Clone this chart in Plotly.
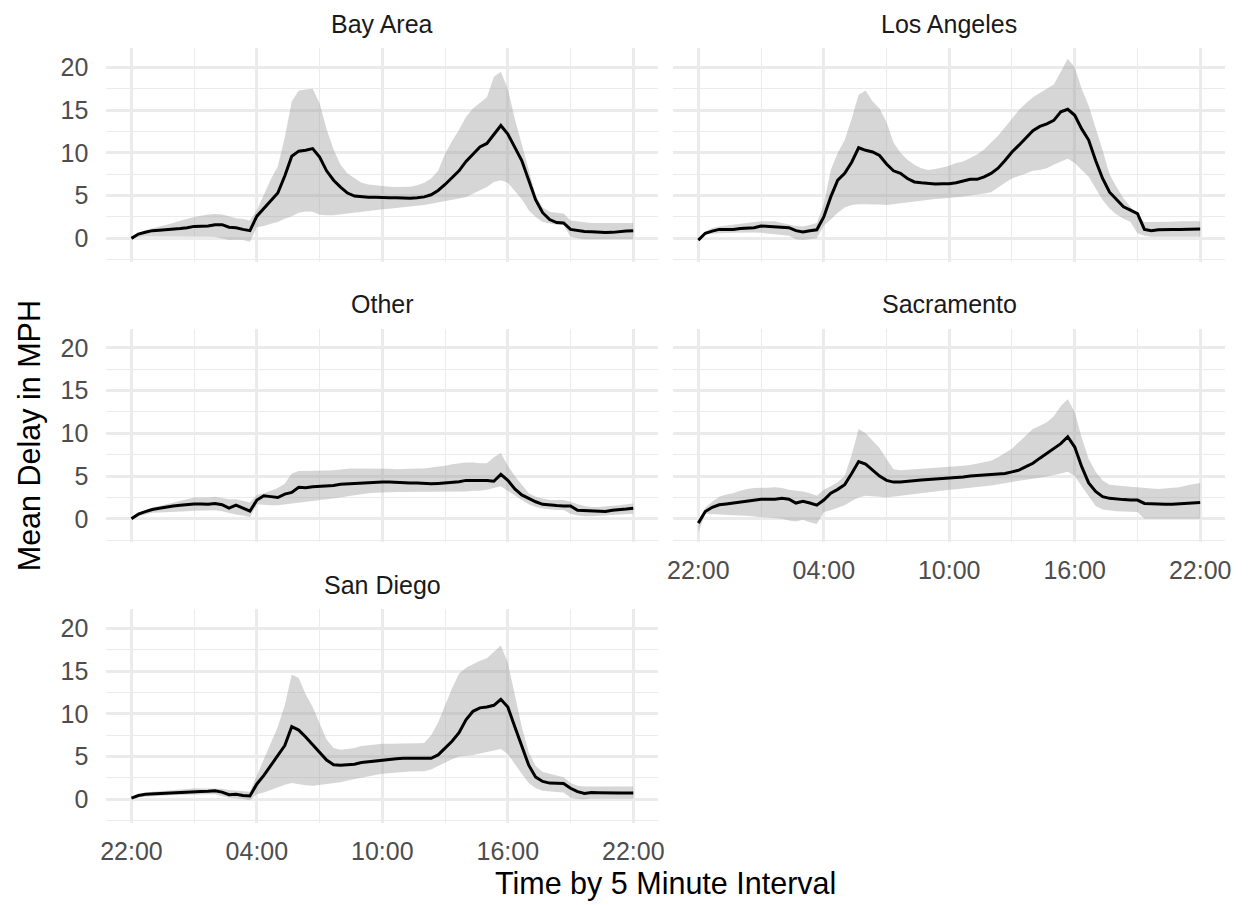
import plotly.graph_objects as go

# Sampling grid: every 20 minutes from 22:00 to the following 22:00,
# expressed as minutes after 22:00.
minutes = list(range(0, 24 * 60 + 1, 20))
hours = [m / 60 for m in minutes]

tick_hours = [0, 6, 12, 18, 24]
tick_labels = ["22:00", "04:00", "10:00", "16:00", "22:00"]
minor_hours = [3, 9, 15, 21]
y_ticks = [0, 5, 10, 15, 20]
y_minor = [-2.5, 2.5, 7.5, 12.5, 17.5]

regions = ["Bay Area", "Los Angeles", "Other", "Sacramento", "San Diego"]

# ---- Bay Area ----
bay_area_mean = [
    0.0, 0.5, 0.72, 0.9, 0.95, 1.0, 1.05, 1.15, 1.25, 1.4, 1.42, 1.45,
    1.6, 1.6, 1.3, 1.25, 1.05, 0.9, 2.6, 3.5, 4.4, 5.3, 7.3, 9.6,
    10.2, 10.3, 10.5, 9.5, 7.9, 6.8, 6.0, 5.3, 4.95, 4.85, 4.8, 4.8,
    4.75, 4.75, 4.75, 4.7, 4.7, 4.75, 4.85, 5.1, 5.6, 6.3, 7.1, 7.9,
    9.0, 9.8, 10.7, 11.1, 12.2, 13.2, 12.2, 10.7, 9.1, 6.8, 4.5, 3.0,
    2.2, 1.85, 1.8, 1.05, 0.9, 0.8, 0.78, 0.7, 0.68, 0.7, 0.8, 0.85,
    0.9]
bay_area_low = [
    0.0, 0.15, 0.22, 0.27, 0.25, 0.22, 0.2, 0.2, 0.2, 0.2, 0.2, 0.2,
    0.15, 0.0, -0.2, -0.15, -0.2, -0.4, 1.3, 1.45, 1.7, 1.9, 2.3, 2.6,
    3.0, 3.15, 3.1, 2.75, 2.7, 2.7, 2.8, 2.9, 3.0, 3.1, 3.2, 3.3,
    3.4, 3.45, 3.5, 3.6, 3.7, 3.8, 3.9, 4.0, 4.15, 4.3, 4.5, 4.65,
    4.85, 5.2, 5.6, 6.0, 6.6, 6.8, 6.5, 5.6, 4.6, 3.3, 2.5, 1.9,
    1.75, 1.6, 1.55, 0.2, 0.0, -0.1, -0.1, -0.1, -0.1, -0.1, -0.1, -0.1,
    -0.1]
bay_area_high = [
    0.0, 0.6, 0.95, 1.15, 1.35, 1.6, 1.8, 2.05, 2.3, 2.5, 2.65, 2.8,
    2.85, 2.8, 2.6, 2.35, 2.25, 2.1, 3.3, 5.2, 6.9, 8.4, 11.8, 16.0,
    17.3, 17.4, 17.5, 15.8, 12.8, 10.4, 8.6, 7.6, 7.0, 6.5, 6.3, 6.2,
    6.1, 6.05, 6.0, 6.0, 6.05, 6.2, 6.5, 7.0, 7.9, 9.9, 11.4, 12.7,
    14.2, 15.2, 15.8, 16.5, 18.9, 19.5, 17.5, 14.0, 11.0, 8.0, 5.0, 3.6,
    3.1, 3.0, 2.9, 2.1, 2.0, 1.9, 1.8, 1.8, 1.8, 1.8, 1.8, 1.8,
    1.8]

# ---- Los Angeles ----
los_angeles_mean = [
    -0.2, 0.6, 0.85, 1.05, 1.05, 1.05, 1.15, 1.2, 1.25, 1.45, 1.4, 1.3,
    1.25, 1.25, 0.9, 0.75, 0.9, 1.0, 2.5, 4.85, 6.8, 7.6, 8.9, 10.6,
    10.3, 10.1, 9.7, 8.7, 7.9, 7.6, 7.0, 6.6, 6.5, 6.4, 6.35, 6.4,
    6.4, 6.5, 6.7, 6.9, 6.9, 7.2, 7.6, 8.2, 9.1, 10.1, 10.9, 11.7,
    12.6, 13.1, 13.4, 13.8, 14.8, 15.1, 14.4, 12.8, 11.5, 9.1, 7.0, 5.4,
    4.5, 3.7, 3.3, 2.9, 1.05, 0.9, 1.0, 1.05, 1.05, 1.05, 1.05, 1.1,
    1.1]
los_angeles_low = [
    -0.3, 0.5, 0.55, 0.6, 0.63, 0.67, 0.7, 0.7, 0.68, 0.65, 0.6, 0.5,
    0.4, 0.3, -0.1, -0.2, -0.1, 0.0, 1.5, 2.2, 3.0, 3.6, 3.9, 4.0,
    4.0, 4.0, 3.95, 3.9, 4.0, 4.1, 4.2, 4.3, 4.4, 4.5, 4.6, 4.65,
    4.7, 4.8, 4.9, 5.0, 5.1, 5.25, 5.4, 5.9, 6.5, 7.0, 7.3, 7.6,
    7.9, 8.0, 8.2, 8.6, 9.0, 9.3, 8.8, 8.0, 7.2, 5.8, 4.5, 3.5,
    2.8, 2.3, 1.9, 0.6, 0.3, 0.2, 0.2, 0.2, 0.2, 0.2, 0.2, 0.2,
    0.2]
los_angeles_high = [
    -0.1, 0.8, 1.2, 1.4, 1.5, 1.6, 1.7, 1.8, 1.9, 2.0, 2.0, 2.0,
    1.8, 1.6, 1.45, 1.4, 1.55, 1.8, 4.0, 8.0, 10.0, 11.5, 14.0, 16.8,
    17.3, 16.0, 15.2, 13.6, 11.2, 10.0, 9.2, 8.6, 8.2, 8.0, 8.1, 8.3,
    8.5, 8.8, 9.0, 9.4, 9.8, 10.4, 11.2, 12.0, 13.0, 14.0, 15.0, 15.8,
    16.5, 17.0, 17.5, 18.0, 19.5, 21.0, 20.0, 17.5, 15.5, 13.0, 10.3, 7.5,
    6.0, 4.7, 3.7, 2.5, 1.9, 1.9, 1.9, 1.9, 1.95, 2.0, 2.0, 2.0,
    2.0]

# ---- Other ----
other_mean = [
    0.0, 0.55, 0.85, 1.1, 1.25, 1.4, 1.5, 1.6, 1.7, 1.75, 1.75, 1.7,
    1.8, 1.65, 1.25, 1.6, 1.25, 0.9, 2.2, 2.7, 2.6, 2.5, 2.9, 3.1,
    3.7, 3.65, 3.75, 3.8, 3.85, 3.9, 4.05, 4.1, 4.1, 4.15, 4.2, 4.25,
    4.3, 4.3, 4.25, 4.2, 4.2, 4.2, 4.15, 4.1, 4.15, 4.2, 4.25, 4.35,
    4.5, 4.5, 4.5, 4.5, 4.4, 5.2, 4.5, 3.5, 2.8, 2.4, 2.0, 1.7,
    1.6, 1.55, 1.5, 1.5, 1.0, 0.95, 0.95, 0.9, 0.85, 1.0, 1.05, 1.15,
    1.25]
other_low = [
    0.0, 0.3, 0.5, 0.7, 0.75, 0.8, 0.85, 0.88, 0.9, 0.95, 0.98, 1.0,
    1.0, 0.9, 0.7, 0.5, 0.4, 0.2, 1.7, 1.65, 1.6, 1.6, 1.65, 1.75,
    1.9, 2.0, 2.1, 2.2, 2.3, 2.4, 2.5, 2.65, 2.8, 2.9, 3.0, 3.05,
    3.1, 3.1, 3.15, 3.15, 3.2, 3.2, 3.2, 3.2, 3.2, 3.2, 3.2, 3.2,
    3.2, 3.3, 3.3, 3.4, 3.6, 3.8, 3.3, 2.7, 2.2, 1.7, 1.4, 1.2,
    1.1, 1.05, 1.05, 0.6, 0.4, 0.3, 0.3, 0.3, 0.35, 0.4, 0.5, 0.55,
    0.6]
other_high = [
    0.0, 0.6, 1.0, 1.3, 1.5, 1.7, 1.9, 2.1, 2.3, 2.5, 2.5, 2.5,
    2.6, 2.45, 2.3, 2.3, 2.1, 1.9, 2.8, 3.0, 3.3, 3.6, 4.1, 5.3,
    5.6, 5.6, 5.6, 5.6, 5.65, 5.7, 5.8, 5.85, 5.9, 5.9, 5.9, 5.9,
    5.9, 5.85, 5.8, 5.8, 5.85, 5.9, 5.9, 6.0, 6.1, 6.2, 6.4, 6.5,
    6.6, 6.6, 6.5, 6.5, 7.2, 7.7, 6.2, 5.0, 4.0, 3.0, 2.6, 2.4,
    2.2, 2.2, 2.2, 2.0, 1.7, 1.5, 1.4, 1.4, 1.45, 1.5, 1.6, 1.7,
    1.8]

# ---- Sacramento ----
sacramento_mean = [
    -0.5, 0.85, 1.35, 1.65, 1.75, 1.85, 1.95, 2.05, 2.15, 2.3, 2.3, 2.3,
    2.4, 2.3, 1.85, 2.05, 1.85, 1.6, 2.2, 3.0, 3.45, 4.0, 5.3, 6.7,
    6.4, 5.7, 5.0, 4.5, 4.3, 4.3, 4.4, 4.5, 4.55, 4.6, 4.65, 4.7,
    4.8, 4.85, 4.9, 5.0, 5.05, 5.1, 5.2, 5.25, 5.3, 5.5, 5.7, 6.1,
    6.5, 7.1, 7.7, 8.2, 8.8, 9.6, 8.4, 6.1, 4.2, 3.2, 2.6, 2.4,
    2.3, 2.25, 2.2, 2.2, 1.8, 1.75, 1.7, 1.7, 1.72, 1.75, 1.8, 1.85,
    1.9]
sacramento_low = [
    -1.6, 0.6, 0.6, 0.55, 0.5, 0.45, 0.4, 0.35, 0.3, 0.2, 0.15, 0.1,
    0.0, -0.2, -0.3, -0.1, -0.4, -0.6, 0.8, 1.0, 1.3, 1.6, 2.1, 2.5,
    2.7, 2.65, 2.6, 2.5, 2.6, 2.7, 2.8, 2.9, 3.0, 3.1, 3.2, 3.3,
    3.4, 3.45, 3.5, 3.6, 3.7, 3.8, 3.9, 4.05, 4.15, 4.3, 4.45, 4.55,
    4.7, 4.8, 4.95, 5.1, 5.3, 5.5, 5.0, 3.8, 2.6, 1.5, 1.1, 1.0,
    0.9, 0.85, 0.8, 0.8, 0.0, 0.0, 0.0, 0.0, 0.0, 0.0, 0.0, 0.0,
    0.0]
sacramento_high = [
    -0.3, 1.3, 2.0, 2.6, 2.85, 3.0, 3.3, 3.5, 3.6, 3.6, 3.65, 3.7,
    3.6, 3.4, 3.3, 3.2, 3.0, 2.7, 3.4, 3.8, 4.3, 5.0, 7.5, 10.5,
    10.0, 9.2, 8.3, 7.0, 5.8, 5.7, 5.75, 5.8, 5.85, 5.9, 6.0, 6.05,
    6.1, 6.15, 6.2, 6.3, 6.45, 6.6, 6.8, 7.2, 7.7, 8.2, 9.0, 9.8,
    10.5, 10.9, 11.3, 12.0, 13.2, 14.0, 12.5, 9.5, 7.0, 5.5, 4.5, 4.0,
    3.9, 3.8, 3.75, 3.7, 3.6, 3.55, 3.5, 3.55, 3.6, 3.7, 3.9, 4.05,
    4.2]

# ---- San Diego ----
san_diego_mean = [
    0.15, 0.45, 0.6, 0.65, 0.68, 0.7, 0.75, 0.8, 0.85, 0.9, 0.92, 0.95,
    1.0, 0.85, 0.55, 0.6, 0.45, 0.4, 1.8, 2.8, 4.0, 5.2, 6.3, 8.5,
    8.1, 7.3, 6.4, 5.5, 4.6, 4.05, 4.0, 4.05, 4.1, 4.3, 4.4, 4.5,
    4.6, 4.7, 4.75, 4.8, 4.8, 4.8, 4.75, 4.8, 5.2, 6.0, 6.8, 7.8,
    9.3, 10.3, 10.7, 10.8, 11.0, 11.7, 10.8, 8.5, 6.2, 4.0, 2.6, 2.1,
    1.9, 1.9, 1.85, 1.3, 0.9, 0.7, 0.8, 0.78, 0.75, 0.75, 0.75, 0.75,
    0.75]
san_diego_low = [
    0.1, 0.25, 0.35, 0.4, 0.42, 0.45, 0.5, 0.52, 0.55, 0.6, 0.6, 0.6,
    0.6, 0.4, 0.2, 0.1, 0.05, -0.1, 0.6, 0.8, 1.1, 1.4, 1.7, 1.9,
    1.8, 1.65, 1.6, 1.7, 1.8, 1.9, 2.0, 2.2, 2.35, 2.5, 2.7, 2.85,
    3.0, 3.1, 3.15, 3.2, 3.25, 3.3, 3.3, 3.5, 3.9, 4.3, 4.7, 5.0,
    5.1, 5.2, 5.35, 5.5, 5.7, 5.9, 5.3, 4.2, 3.0, 1.9, 1.3, 1.0,
    0.9, 0.85, 0.8, 0.2, 0.05, 0.0, 0.1, 0.1, 0.1, 0.1, 0.1, 0.1,
    0.1]
san_diego_high = [
    0.2, 0.5, 0.75, 0.9, 0.95, 1.0, 1.1, 1.15, 1.2, 1.3, 1.3, 1.3,
    1.3, 1.25, 1.1, 1.0, 0.95, 0.9, 2.8, 4.5, 6.5, 8.5, 11.0, 14.6,
    14.2, 12.3, 10.8, 8.9, 7.0, 6.0, 5.8, 5.9, 6.0, 6.25, 6.35, 6.4,
    6.5, 6.5, 6.5, 6.5, 6.5, 6.55, 6.6, 7.5, 9.0, 11.0, 13.0, 14.7,
    15.4, 15.8, 16.2, 16.5, 17.3, 18.0, 16.0, 12.3, 8.5, 5.5, 3.9, 3.2,
    3.0, 2.8, 2.6, 1.9, 1.6, 1.5, 1.5, 1.5, 1.5, 1.5, 1.5, 1.5,
    1.5]

series = {
    "Bay Area": (bay_area_mean, bay_area_low, bay_area_high),
    "Los Angeles": (los_angeles_mean, los_angeles_low, los_angeles_high),
    "Other": (other_mean, other_low, other_high),
    "Sacramento": (sacramento_mean, sacramento_low, sacramento_high),
    "San Diego": (san_diego_mean, san_diego_low, san_diego_high),
}

# ---- facet geometry (pixels in a 1249 x 905 canvas) ----
W, H = 1249, 905
col_px = [(101.3, 658.7), (673.7, 1231.1)]
row_px = [(48.3, 261.7), (328.8, 542.2), (609.3, 822.7)]
facet_pos = {
    "Bay Area": (0, 0),
    "Los Angeles": (0, 1),
    "Other": (1, 0),
    "Sacramento": (1, 1),
    "San Diego": (2, 0),
}
bottom_of_column = {"Sacramento", "San Diego"}

GRID = "#EBEBEB"
TICK_COLOR = "#4D4D4D"
FONT = "Liberation Sans, Arial, Helvetica, sans-serif"
TICK_SIZE = 25
STRIP_SIZE = 25
TITLE_SIZE = 30.5

fig = go.Figure()
layout = dict(
    width=W, height=H, autosize=False,
    margin=dict(l=0, r=0, t=0, b=0),
    paper_bgcolor="white", plot_bgcolor="white",
    showlegend=False,
    font=dict(family=FONT, color=TICK_COLOR),
)
annotations = []

for k, name in enumerate(regions, start=1):
    r, c = facet_pos[name]
    mean, low, high = series[name]
    xa = "x" if k == 1 else f"x{k}"
    ya = "y" if k == 1 else f"y{k}"

    # confidence band as one closed polygon
    fig.add_trace(go.Scatter(
        x=hours + hours[::-1], y=high + low[::-1],
        xaxis=xa, yaxis=ya, mode="lines", fill="toself",
        fillcolor="rgba(153,153,153,0.4)", line=dict(width=0),
        hoverinfo="skip",
    ))
    fig.add_trace(go.Scatter(
        x=hours, y=mean, xaxis=xa, yaxis=ya, mode="lines",
        line=dict(color="black", width=3),
    ))

    x0, x1 = col_px[c]
    y0, y1 = row_px[r]
    layout[f"xaxis{'' if k == 1 else k}"] = dict(
        domain=[x0 / W, x1 / W], anchor=ya,
        range=[-1.2, 25.2], tickmode="array",
        tickvals=tick_hours, ticktext=tick_labels,
        showticklabels=name in bottom_of_column,
        ticks="outside", ticklen=6, tickcolor="rgba(0,0,0,0)",
        tickfont=dict(size=TICK_SIZE, color=TICK_COLOR, family=FONT),
        showgrid=True, gridcolor=GRID, gridwidth=2.5,
        minor=dict(tickvals=minor_hours, showgrid=True, gridcolor=GRID,
                   gridwidth=1.3, ticks=""),
        zeroline=False, showline=False, fixedrange=True,
    )
    layout[f"yaxis{'' if k == 1 else k}"] = dict(
        domain=[1 - y1 / H, 1 - y0 / H], anchor=xa,
        range=[-2.73, 22.23], tickmode="array",
        tickvals=y_ticks, ticktext=[str(v) for v in y_ticks],
        showticklabels=(c == 0),
        ticks="outside", ticklen=12, tickcolor="rgba(0,0,0,0)",
        tickfont=dict(size=TICK_SIZE, color=TICK_COLOR, family=FONT),
        showgrid=True, gridcolor=GRID, gridwidth=2.5,
        minor=dict(tickvals=y_minor, showgrid=True, gridcolor=GRID,
                   gridwidth=1.3, ticks=""),
        zeroline=False, showline=False, fixedrange=True,
    )

    # facet strip label
    annotations.append(dict(
        text=name, xref="paper", yref="paper",
        x=(x0 + x1) / 2 / W, y=1 - (y0 - 24.5) / H,
        xanchor="center", yanchor="middle", showarrow=False,
        font=dict(size=STRIP_SIZE, color="#1A1A1A", family=FONT),
    ))

# axis titles
annotations.append(dict(
    text="Time by 5 Minute Interval", xref="paper", yref="paper",
    x=(col_px[0][0] + col_px[1][1]) / 2 / W, y=1 - 883 / H,
    xanchor="center", yanchor="middle", showarrow=False,
    font=dict(size=TITLE_SIZE, color="black", family=FONT),
))
annotations.append(dict(
    text="Mean Delay in MPH", xref="paper", yref="paper",
    x=24 / W, y=1 - (row_px[0][0] + row_px[2][1]) / 2 / H,
    xanchor="center", yanchor="middle", textangle=-90, showarrow=False,
    font=dict(size=TITLE_SIZE, color="black", family=FONT),
))

layout["annotations"] = annotations
fig.update_layout(**layout)
fig.write_html("out.html")
